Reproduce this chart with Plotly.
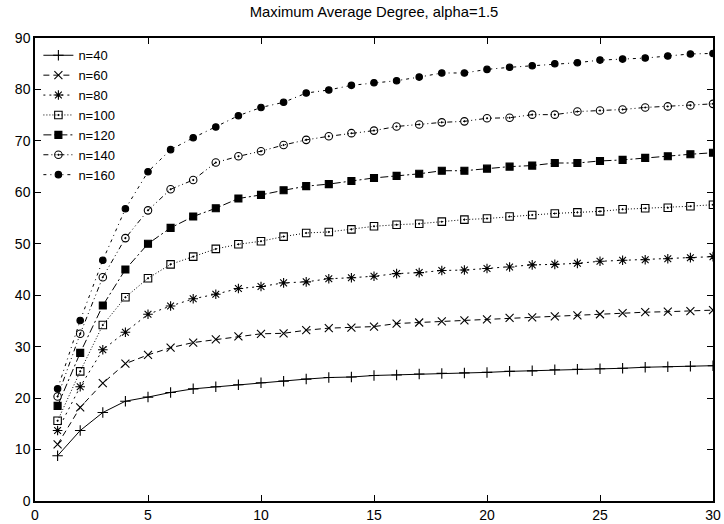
import plotly.graph_objects as go

x_vals = list(range(1, 31))

n40 = [8.8, 13.7, 17.2, 19.4, 20.2, 21.1, 21.8, 22.2, 22.6, 23.0, 23.3, 23.7, 24.0, 24.1, 24.4,
       24.5, 24.7, 24.8, 24.9, 25.0, 25.2, 25.3, 25.5, 25.6, 25.7, 25.8, 26.0, 26.1, 26.2, 26.3]
n60 = [11.0, 18.2, 22.9, 26.7, 28.4, 29.8, 30.8, 31.4, 32.0, 32.5, 32.6, 33.2, 33.6, 33.7, 33.9,
       34.5, 34.7, 34.9, 35.1, 35.3, 35.6, 35.7, 35.9, 36.1, 36.3, 36.5, 36.7, 36.8, 36.9, 37.1]
n80 = [13.7, 22.2, 29.4, 32.8, 36.3, 37.9, 39.3, 40.2, 41.3, 41.7, 42.4, 42.6, 43.2, 43.4, 43.7,
       44.2, 44.4, 44.8, 44.9, 45.2, 45.5, 45.9, 46.0, 46.2, 46.6, 46.8, 46.9, 47.1, 47.3, 47.5]
n100 = [15.6, 25.2, 34.2, 39.6, 43.3, 46.0, 47.5, 49.0, 49.9, 50.5, 51.4, 52.1, 52.3, 52.8, 53.4,
        53.7, 53.9, 54.3, 54.7, 54.9, 55.3, 55.6, 55.9, 56.1, 56.3, 56.7, 56.9, 57.0, 57.3, 57.6]
n120 = [18.5, 28.8, 38.0, 45.0, 50.0, 53.1, 55.3, 56.9, 58.8, 59.5, 60.4, 61.2, 61.6, 62.2, 62.8,
        63.2, 63.6, 64.2, 64.2, 64.6, 65.0, 65.2, 65.7, 65.7, 66.1, 66.3, 66.7, 67.0, 67.4, 67.7]
n140 = [20.3, 32.5, 43.5, 51.1, 56.5, 60.6, 62.4, 65.8, 67.0, 68.0, 69.2, 70.2, 70.9, 71.5, 72.0,
        72.8, 73.2, 73.6, 73.8, 74.4, 74.5, 75.1, 75.1, 75.7, 75.9, 76.1, 76.5, 76.7, 76.9, 77.2]
n160 = [21.8, 35.1, 46.8, 56.8, 64.0, 68.3, 70.6, 72.7, 74.9, 76.5, 77.5, 79.3, 79.9, 80.8, 81.3,
        81.7, 82.4, 83.2, 83.2, 83.9, 84.3, 84.6, 85.0, 85.2, 85.7, 85.9, 86.1, 86.5, 86.9, 87.0]

labels = ["n=40", "n=60", "n=80", "n=100", "n=120", "n=140", "n=160"]
series = [n40, n60, n80, n100, n120, n140, n160]
dashes = ["solid", "6px,4px", "2px,4px", "1px,2px", "8px,3px,2px,3px",
          "5px,3px,1px,3px,1px,3px", "3px,4px,1px,4px"]
symbols = ["cross-thin-open", "x-thin-open", "asterisk-open", "square-open-dot",
           "square", "circle-open-dot", "circle"]
sizes = [7.5, 8, 8, 7.5, 7, 7.5, 6.5]

fig = go.Figure()
for lab, ys, d, s, sz in zip(labels, series, dashes, symbols, sizes):
    fig.add_trace(go.Scatter(
        x=x_vals, y=ys, name=lab, mode="lines+markers",
        line=dict(color="black", width=1, dash=d),
        marker=dict(symbol=s, size=sz, color="black",
                    line=dict(color="black", width=1.1)),
    ))

font = "Liberation Sans, Arial, sans-serif"
axis_common = dict(
    showgrid=False, zeroline=False, showline=True, linecolor="black", linewidth=1.5,
    mirror="ticks", ticks="inside", ticklen=6, tickwidth=1, tickcolor="black",
    tickfont=dict(family=font, size=14, color="black"), automargin=False,
)
fig.update_xaxes(range=[0, 30], dtick=5, tick0=0, **axis_common)
fig.update_yaxes(range=[0, 90], dtick=10, tick0=0, **axis_common)

fig.update_layout(
    width=724, height=524,
    margin=dict(l=35, r=11, t=38, b=23),
    paper_bgcolor="white", plot_bgcolor="white",
    title=dict(text="Maximum Average Degree, alpha=1.5", x=374 / 724, xanchor="center",
               xref="container", y=0.978, yanchor="middle", automargin=False,
               font=dict(family=font, size=14.8, color="black")),
    legend=dict(x=0.005, y=0.995, xanchor="left", yanchor="top",
                bgcolor="rgba(0,0,0,0)", tracegroupgap=0,
                font=dict(family=font, size=13, color="black")),
    showlegend=True,
)

fig.write_html("out.html")
